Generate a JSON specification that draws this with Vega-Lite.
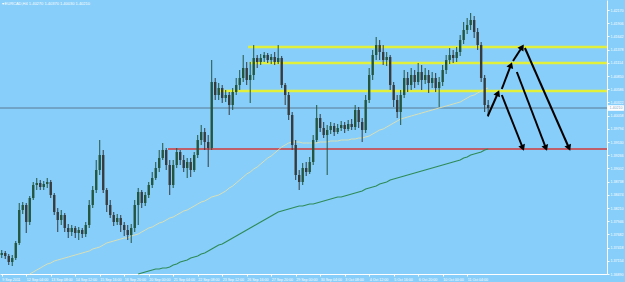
{
"$schema": "https://vega.github.io/schema/vega-lite/v6.json",
"width": 607, "height": 274, "autosize": "none", "padding": {"left": 0, "top": 0, "right": 18, "bottom": 8},
"background": "#87CEFA",
"config": {"view": {"stroke": null}, "font": "Liberation Sans", "axis": {"labelOverlap": false, "labelFlush": false, "labelBound": false, "grid": false, "labelColor": "white", "tickColor": "white", "domainColor": "white", "tickSize": 2, "labelFont": "Liberation Sans", "tickCount": 100}},
"title": {"text": "▾ EURCAD,H4  1.40270 1.40370 1.40030 1.40210", "anchor": "start", "offset": -6, "fontSize": 4, "color": "white", "fontWeight": "normal", "font": "Liberation Sans", "dx": 2},
"datasets": {
"bars": [
{"i":0,"o":1.3727,"h":1.3737,"l":1.3721,"c":1.3731},
{"i":1,"o":1.3731,"h":1.3735,"l":1.3719,"c":1.3725},
{"i":2,"o":1.3725,"h":1.3729,"l":1.3707,"c":1.3713},
{"i":3,"o":1.3713,"h":1.3727,"l":1.3705,"c":1.3721},
{"i":4,"o":1.3721,"h":1.3755,"l":1.3717,"c":1.3751},
{"i":5,"o":1.3751,"h":1.3831,"l":1.3747,"c":1.3817},
{"i":6,"o":1.3817,"h":1.3833,"l":1.3809,"c":1.3827},
{"i":7,"o":1.3827,"h":1.3831,"l":1.3771,"c":1.3793},
{"i":8,"o":1.3793,"h":1.3845,"l":1.3787,"c":1.3841,"m1":1.3689},
{"i":9,"o":1.3841,"h":1.3873,"l":1.3837,"c":1.3867,"m1":1.3693},
{"i":10,"o":1.3867,"h":1.3881,"l":1.3857,"c":1.3871,"m1":1.3697},
{"i":11,"o":1.3871,"h":1.3877,"l":1.3857,"c":1.3863,"m1":1.3701},
{"i":12,"o":1.3863,"h":1.3875,"l":1.3857,"c":1.3869,"m1":1.3705},
{"i":13,"o":1.3869,"h":1.3881,"l":1.3861,"c":1.3873,"m1":1.3709},
{"i":14,"o":1.3873,"h":1.3877,"l":1.3841,"c":1.3847,"m1":1.3711},
{"i":15,"o":1.3847,"h":1.3851,"l":1.3807,"c":1.3813,"m1":1.3715},
{"i":16,"o":1.3813,"h":1.3821,"l":1.3773,"c":1.3797,"m1":1.3717},
{"i":17,"o":1.3797,"h":1.3817,"l":1.3787,"c":1.3807,"m1":1.3719},
{"i":18,"o":1.3807,"h":1.3811,"l":1.3773,"c":1.3781,"m1":1.3721},
{"i":19,"o":1.3781,"h":1.3789,"l":1.3761,"c":1.3773,"m1":1.3723},
{"i":20,"o":1.3773,"h":1.3787,"l":1.3765,"c":1.3781,"m1":1.3725},
{"i":21,"o":1.3781,"h":1.3785,"l":1.3761,"c":1.3771,"m1":1.3727},
{"i":22,"o":1.3771,"h":1.3783,"l":1.3757,"c":1.3777,"m1":1.3729},
{"i":23,"o":1.3777,"h":1.3781,"l":1.3761,"c":1.3769,"m1":1.3731},
{"i":24,"o":1.3769,"h":1.3793,"l":1.3763,"c":1.3787,"m1":1.3733},
{"i":25,"o":1.3787,"h":1.3837,"l":1.3781,"c":1.3827,"m1":1.3735},
{"i":26,"o":1.3827,"h":1.3865,"l":1.3821,"c":1.3857,"m1":1.3739},
{"i":27,"o":1.3857,"h":1.3917,"l":1.3851,"c":1.3897,"m1":1.3741},
{"i":28,"o":1.3897,"h":1.3957,"l":1.3887,"c":1.3927,"m1":1.3743},
{"i":29,"o":1.3927,"h":1.3937,"l":1.3851,"c":1.3857,"m1":1.3747},
{"i":30,"o":1.3857,"h":1.3861,"l":1.3813,"c":1.3827,"m1":1.3751},
{"i":31,"o":1.3827,"h":1.3837,"l":1.3801,"c":1.3807,"m1":1.3753},
{"i":32,"o":1.3807,"h":1.3813,"l":1.3785,"c":1.3793,"m1":1.3755},
{"i":33,"o":1.3793,"h":1.3809,"l":1.3787,"c":1.3801,"m1":1.3757},
{"i":34,"o":1.3801,"h":1.3807,"l":1.3773,"c":1.3787,"m1":1.3759},
{"i":35,"o":1.3787,"h":1.3793,"l":1.3765,"c":1.3777,"m1":1.3761},
{"i":36,"o":1.3777,"h":1.3787,"l":1.3757,"c":1.3767,"m1":1.3761},
{"i":37,"o":1.3767,"h":1.3789,"l":1.3751,"c":1.3781,"m1":1.3765},
{"i":38,"o":1.3781,"h":1.3837,"l":1.3773,"c":1.3827,"m1":1.3767},
{"i":39,"o":1.3827,"h":1.3861,"l":1.3787,"c":1.3853,"m1":1.3769,"m2":1.3689},
{"i":40,"o":1.3853,"h":1.3857,"l":1.3821,"c":1.3831,"m1":1.3773,"m2":1.3691},
{"i":41,"o":1.3831,"h":1.3853,"l":1.3825,"c":1.3847,"m1":1.3777,"m2":1.3693},
{"i":42,"o":1.3847,"h":1.3873,"l":1.3841,"c":1.3867,"m1":1.3781,"m2":1.3695},
{"i":43,"o":1.3867,"h":1.3893,"l":1.3861,"c":1.3881,"m1":1.3783,"m2":1.3697},
{"i":44,"o":1.3881,"h":1.3913,"l":1.3877,"c":1.3901,"m1":1.3787,"m2":1.3699},
{"i":45,"o":1.3901,"h":1.3937,"l":1.3893,"c":1.3921,"m1":1.3791,"m2":1.3699},
{"i":46,"o":1.3921,"h":1.3951,"l":1.3917,"c":1.3937,"m1":1.3793,"m2":1.3701},
{"i":47,"o":1.3937,"h":1.3941,"l":1.3897,"c":1.3907,"m1":1.3797,"m2":1.3701},
{"i":48,"o":1.3907,"h":1.3917,"l":1.3847,"c":1.3867,"m1":1.3801,"m2":1.3703},
{"i":49,"o":1.3867,"h":1.3917,"l":1.3861,"c":1.3907,"m1":1.3803,"m2":1.3707},
{"i":50,"o":1.3907,"h":1.3941,"l":1.3901,"c":1.3933,"m1":1.3807,"m2":1.3709},
{"i":51,"o":1.3933,"h":1.3937,"l":1.3907,"c":1.3917,"m1":1.3811,"m2":1.3713},
{"i":52,"o":1.3917,"h":1.3927,"l":1.3893,"c":1.3901,"m1":1.3815,"m2":1.3715},
{"i":53,"o":1.3901,"h":1.3921,"l":1.3881,"c":1.3913,"m1":1.3817,"m2":1.3717},
{"i":54,"o":1.3913,"h":1.3921,"l":1.3883,"c":1.3897,"m1":1.3821,"m2":1.3721},
{"i":55,"o":1.3897,"h":1.3933,"l":1.3893,"c":1.3927,"m1":1.3825,"m2":1.3723},
{"i":56,"o":1.3927,"h":1.3967,"l":1.3921,"c":1.3957,"m1":1.3829,"m2":1.3725},
{"i":57,"o":1.3957,"h":1.3987,"l":1.3947,"c":1.3973,"m1":1.3833,"m2":1.3729},
{"i":58,"o":1.3973,"h":1.3981,"l":1.3937,"c":1.3953,"m1":1.3835,"m2":1.3731},
{"i":59,"o":1.3953,"h":1.3967,"l":1.3903,"c":1.3941,"m1":1.3839,"m2":1.3735},
{"i":60,"o":1.3941,"h":1.4117,"l":1.3937,"c":1.4073,"m1":1.3843,"m2":1.3739},
{"i":61,"o":1.4073,"h":1.4081,"l":1.4037,"c":1.4047,"m1":1.3845,"m2":1.3743},
{"i":62,"o":1.4047,"h":1.4071,"l":1.4037,"c":1.4061,"m1":1.3847,"m2":1.3747},
{"i":63,"o":1.4061,"h":1.4067,"l":1.4031,"c":1.4041,"m1":1.3851,"m2":1.3749},
{"i":64,"o":1.4041,"h":1.4057,"l":1.4033,"c":1.4047,"m1":1.3855,"m2":1.3753},
{"i":65,"o":1.4047,"h":1.4053,"l":1.4007,"c":1.4027,"m1":1.3861,"m2":1.3757},
{"i":66,"o":1.4027,"h":1.4061,"l":1.4017,"c":1.4053,"m1":1.3865,"m2":1.3761},
{"i":67,"o":1.4053,"h":1.4081,"l":1.4047,"c":1.4067,"m1":1.3871,"m2":1.3765},
{"i":68,"o":1.4067,"h":1.4097,"l":1.4057,"c":1.4081,"m1":1.3877,"m2":1.3769},
{"i":69,"o":1.4081,"h":1.4127,"l":1.4073,"c":1.4101,"m1":1.3883,"m2":1.3773},
{"i":70,"o":1.4101,"h":1.4113,"l":1.4067,"c":1.4077,"m1":1.3889,"m2":1.3777},
{"i":71,"o":1.4077,"h":1.4113,"l":1.4031,"c":1.4087,"m1":1.3893,"m2":1.3781},
{"i":72,"o":1.4087,"h":1.4147,"l":1.4077,"c":1.4121,"m1":1.3899,"m2":1.3785},
{"i":73,"o":1.4121,"h":1.4127,"l":1.4101,"c":1.4113,"m1":1.3903,"m2":1.3789},
{"i":74,"o":1.4113,"h":1.4129,"l":1.4107,"c":1.4121,"m1":1.3909,"m2":1.3793},
{"i":75,"o":1.4121,"h":1.4133,"l":1.4113,"c":1.4127,"m1":1.3915,"m2":1.3797},
{"i":76,"o":1.4127,"h":1.4131,"l":1.4111,"c":1.4117,"m1":1.3921,"m2":1.3801},
{"i":77,"o":1.4117,"h":1.4129,"l":1.4109,"c":1.4123,"m1":1.3925,"m2":1.3805},
{"i":78,"o":1.4123,"h":1.4133,"l":1.4107,"c":1.4113,"m1":1.3931,"m2":1.3809},
{"i":79,"o":1.4113,"h":1.4147,"l":1.4109,"c":1.4121,"m1":1.3937,"m2":1.3813},
{"i":80,"o":1.4121,"h":1.4125,"l":1.4061,"c":1.4067,"m1":1.3943,"m2":1.3815},
{"i":81,"o":1.4067,"h":1.4071,"l":1.4027,"c":1.4047,"m1":1.3947,"m2":1.3817},
{"i":82,"o":1.4047,"h":1.4053,"l":1.3997,"c":1.4007,"m1":1.3951,"m2":1.3819},
{"i":83,"o":1.4007,"h":1.4013,"l":1.3937,"c":1.3947,"m1":1.3953,"m2":1.3821},
{"i":84,"o":1.3947,"h":1.3957,"l":1.3877,"c":1.3887,"m1":1.3953,"m2":1.3823},
{"i":85,"o":1.3887,"h":1.3897,"l":1.3857,"c":1.3873,"m1":1.3953,"m2":1.3825},
{"i":86,"o":1.3873,"h":1.3911,"l":1.3867,"c":1.3901,"m1":1.3951,"m2":1.3825},
{"i":87,"o":1.3901,"h":1.3913,"l":1.3885,"c":1.3893,"m1":1.3951,"m2":1.3827},
{"i":88,"o":1.3893,"h":1.3923,"l":1.3889,"c":1.3913,"m1":1.3951,"m2":1.3829},
{"i":89,"o":1.3913,"h":1.3967,"l":1.3907,"c":1.3957,"m1":1.3951,"m2":1.3829},
{"i":90,"o":1.3957,"h":1.4027,"l":1.3953,"c":1.4001,"m1":1.3951,"m2":1.3831},
{"i":91,"o":1.4001,"h":1.4009,"l":1.3973,"c":1.3981,"m1":1.3953,"m2":1.3833},
{"i":92,"o":1.3981,"h":1.3993,"l":1.3961,"c":1.3967,"m1":1.3953,"m2":1.3835},
{"i":93,"o":1.3967,"h":1.3987,"l":1.3887,"c":1.3977,"m1":1.3953,"m2":1.3837},
{"i":94,"o":1.3977,"h":1.3993,"l":1.3969,"c":1.3985,"m1":1.3955,"m2":1.3839},
{"i":95,"o":1.3985,"h":1.3991,"l":1.3965,"c":1.3973,"m1":1.3955,"m2":1.3841},
{"i":96,"o":1.3973,"h":1.3989,"l":1.3969,"c":1.3981,"m1":1.3955,"m2":1.3843},
{"i":97,"o":1.3981,"h":1.3995,"l":1.3975,"c":1.3987,"m1":1.3957,"m2":1.3843},
{"i":98,"o":1.3987,"h":1.3993,"l":1.3971,"c":1.3979,"m1":1.3957,"m2":1.3845},
{"i":99,"o":1.3979,"h":1.3997,"l":1.3975,"c":1.3989,"m1":1.3957,"m2":1.3847},
{"i":100,"o":1.3989,"h":1.3999,"l":1.3977,"c":1.3983,"m1":1.3959,"m2":1.3849},
{"i":101,"o":1.3983,"h":1.4027,"l":1.3977,"c":1.4017,"m1":1.3959,"m2":1.3851},
{"i":102,"o":1.4017,"h":1.4023,"l":1.3981,"c":1.3993,"m1":1.3961,"m2":1.3853},
{"i":103,"o":1.3993,"h":1.4001,"l":1.3953,"c":1.3977,"m1":1.3961,"m2":1.3855},
{"i":104,"o":1.3977,"h":1.4047,"l":1.3971,"c":1.4037,"m1":1.3963,"m2":1.3859},
{"i":105,"o":1.4037,"h":1.4101,"l":1.4031,"c":1.4087,"m1":1.3965,"m2":1.3861},
{"i":106,"o":1.4087,"h":1.4137,"l":1.4077,"c":1.4127,"m1":1.3969,"m2":1.3863},
{"i":107,"o":1.4127,"h":1.4163,"l":1.4117,"c":1.4147,"m1":1.3973,"m2":1.3865},
{"i":108,"o":1.4147,"h":1.4157,"l":1.4117,"c":1.4133,"m1":1.3977,"m2":1.3869},
{"i":109,"o":1.4133,"h":1.4147,"l":1.4107,"c":1.4117,"m1":1.3979,"m2":1.3871},
{"i":110,"o":1.4117,"h":1.4133,"l":1.4105,"c":1.4123,"m1":1.3983,"m2":1.3873},
{"i":111,"o":1.4123,"h":1.4127,"l":1.4057,"c":1.4067,"m1":1.3987,"m2":1.3877},
{"i":112,"o":1.4067,"h":1.4073,"l":1.4023,"c":1.4037,"m1":1.3991,"m2":1.3879},
{"i":113,"o":1.4037,"h":1.4047,"l":1.4001,"c":1.4013,"m1":1.3995,"m2":1.3881},
{"i":114,"o":1.4013,"h":1.4057,"l":1.3987,"c":1.4047,"m1":1.3999,"m2":1.3883},
{"i":115,"o":1.4047,"h":1.4097,"l":1.4041,"c":1.4081,"m1":1.4001,"m2":1.3885},
{"i":116,"o":1.4081,"h":1.4093,"l":1.4053,"c":1.4067,"m1":1.4003,"m2":1.3887},
{"i":117,"o":1.4067,"h":1.4101,"l":1.4057,"c":1.4087,"m1":1.4005,"m2":1.3889},
{"i":118,"o":1.4087,"h":1.4097,"l":1.4061,"c":1.4073,"m1":1.4007,"m2":1.3891},
{"i":119,"o":1.4073,"h":1.4111,"l":1.4067,"c":1.4093,"m1":1.4009,"m2":1.3893},
{"i":120,"o":1.4093,"h":1.4107,"l":1.4057,"c":1.4077,"m1":1.4011,"m2":1.3895},
{"i":121,"o":1.4077,"h":1.4101,"l":1.4069,"c":1.4087,"m1":1.4013,"m2":1.3897},
{"i":122,"o":1.4087,"h":1.4097,"l":1.4051,"c":1.4071,"m1":1.4015,"m2":1.3899},
{"i":123,"o":1.4071,"h":1.4093,"l":1.4061,"c":1.4081,"m1":1.4017,"m2":1.3901},
{"i":124,"o":1.4081,"h":1.4091,"l":1.4053,"c":1.4061,"m1":1.4019,"m2":1.3903},
{"i":125,"o":1.4061,"h":1.4083,"l":1.4023,"c":1.4073,"m1":1.4021,"m2":1.3905},
{"i":126,"o":1.4073,"h":1.4107,"l":1.4065,"c":1.4097,"m1":1.4023,"m2":1.3907},
{"i":127,"o":1.4097,"h":1.4127,"l":1.4089,"c":1.4117,"m1":1.4025,"m2":1.3909},
{"i":128,"o":1.4117,"h":1.4141,"l":1.4109,"c":1.4127,"m1":1.4027,"m2":1.3911},
{"i":129,"o":1.4127,"h":1.4137,"l":1.4111,"c":1.4121,"m1":1.4029,"m2":1.3913},
{"i":130,"o":1.4121,"h":1.4143,"l":1.4113,"c":1.4133,"m1":1.4031,"m2":1.3915},
{"i":131,"o":1.4133,"h":1.4167,"l":1.4125,"c":1.4157,"m1":1.4033,"m2":1.3917},
{"i":132,"o":1.4157,"h":1.4193,"l":1.4149,"c":1.4177,"m1":1.4037,"m2":1.3921},
{"i":133,"o":1.4177,"h":1.4201,"l":1.4169,"c":1.4187,"m1":1.4041,"m2":1.3923},
{"i":134,"o":1.4187,"h":1.4211,"l":1.4177,"c":1.4197,"m1":1.4045,"m2":1.3927},
{"i":135,"o":1.4197,"h":1.4205,"l":1.4161,"c":1.4173,"m1":1.4047,"m2":1.3929},
{"i":136,"o":1.4173,"h":1.4181,"l":1.4137,"c":1.4147,"m1":1.4051,"m2":1.3931},
{"i":137,"o":1.4147,"h":1.4153,"l":1.4073,"c":1.4081,"m1":1.4055,"m2":1.3933},
{"i":138,"o":1.4081,"h":1.4087,"l":1.4013,"c":1.4027,"m1":1.4059,"m2":1.3937},
{"i":139,"o":1.4027,"h":1.4037,"l":1.4003,"c":1.4021,"m1":1.4061,"m2":1.3939}
],
"levels": [
{"kind":"price","x1":-0.5,"x2":172.96,"p":1.4021},
{"kind":"red","x1":47.5,"x2":172.96,"p":1.3939},
{"kind":"yellow","x1":70.4,"x2":172.96,"p":1.4143},
{"kind":"yellow","x1":70.9,"x2":172.96,"p":1.4111},
{"kind":"yellow","x1":61.8,"x2":172.96,"p":1.4055}
],
"arrows": [
{"x1":138.9,"p1":1.4005,"x2":141.8,"p2":1.4051,"ang":23.5},
{"x1":142.9,"p1":1.4059,"x2":145.5,"p2":1.4107,"ang":20.6},
{"x1":146.1,"p1":1.4115,"x2":148.7,"p2":1.4143,"ang":32.7},
{"x1":142.9,"p1":1.4047,"x2":148.9,"p2":1.3941,"ang":158.4},
{"x1":147.2,"p1":1.4093,"x2":155.5,"p2":1.3941,"ang":159.1},
{"x1":149.5,"p1":1.4141,"x2":162.1,"p2":1.3941,"ang":156.3}
]
},
"layer": [
{
"data": {"name": "levels"},
"transform": [{"filter": "datum.kind == 'price'"}],
"mark": {"type": "rule", "color": "#5b7a92", "strokeWidth": 1},
"encoding": {
"x": {"field": "x1", "type": "quantitative", "scale": {"domain": [-0.5, 172.96], "nice": false, "zero": false},
"axis": {"values": [0,7,14,21,28,35,42,49,56,63,70,77,84,91,98,105,112,119,126,133], "tickCount": 100,
"labelExpr": "['9 Sep 2011','12 Sep 04:00','13 Sep 08:00','14 Sep 12:00','15 Sep 16:00','16 Sep 20:00','20 Sep 00:00','21 Sep 04:00','22 Sep 08:00','23 Sep 12:00','26 Sep 16:00','27 Sep 20:00','29 Sep 00:00','30 Sep 04:00','3 Oct 08:00','4 Oct 12:00','5 Oct 16:00','6 Oct 20:00','10 Oct 00:00','11 Oct 04:00'][round(datum.value/7)]",
"labelAlign": "left", "labelFontSize": 3.6, "labelPadding": 1, "labelOverlap": false, "title": null}},
"x2": {"field": "x2"},
"y": {"field": "p", "type": "quantitative", "scale": {"domain": [1.3689, 1.4237], "nice": false, "zero": false},
"axis": {"orient": "right", "tickCount": 100, "values": [1.4217,1.41906,1.41642,1.41378,1.41114,1.4085,1.40586,1.40322,1.40058,1.39794,1.3953,1.39266,1.39002,1.38738,1.38474,1.3821,1.37946,1.37682,1.37418,1.37154,1.3689],
"format": ".5f", "labelFontSize": 3.6, "labelPadding": 1, "labelOverlap": false, "title": null}}
}
},
{
"data": {"name": "levels"},
"transform": [{"filter": "datum.kind == 'yellow'"}],
"mark": {"type": "rule", "color": "#E2F03C", "strokeWidth": 2.5},
"encoding": {
"x": {"field": "x1", "type": "quantitative", "scale": {"domain": [-0.5, 172.96], "nice": false, "zero": false}},
"x2": {"field": "x2"},
"y": {"field": "p", "type": "quantitative", "scale": {"domain": [1.3689, 1.4237], "nice": false, "zero": false}}
}
},
{
"data": {"name": "levels"},
"transform": [{"filter": "datum.kind == 'red'"}],
"mark": {"type": "rule", "color": "#d23a3a", "strokeWidth": 1.5},
"encoding": {
"x": {"field": "x1", "type": "quantitative", "scale": {"domain": [-0.5, 172.96], "nice": false, "zero": false}},
"x2": {"field": "x2"},
"y": {"field": "p", "type": "quantitative", "scale": {"domain": [1.3689, 1.4237], "nice": false, "zero": false}}
}
},
{
"data": {"name": "bars"},
"transform": [{"filter": "isValid(datum.m1)"}],
"mark": {"type": "line", "color": "#E8E2A8", "strokeWidth": 1, "opacity": 0.85},
"encoding": {
"x": {"field": "i", "type": "quantitative", "scale": {"domain": [-0.5, 172.96], "nice": false, "zero": false}},
"y": {"field": "m1", "type": "quantitative", "scale": {"domain": [1.3689, 1.4237], "nice": false, "zero": false}}
}
},
{
"data": {"name": "bars"},
"transform": [{"filter": "isValid(datum.m2)"}],
"mark": {"type": "line", "color": "#2E8B57", "strokeWidth": 1.1},
"encoding": {
"x": {"field": "i", "type": "quantitative", "scale": {"domain": [-0.5, 172.96], "nice": false, "zero": false}},
"y": {"field": "m2", "type": "quantitative", "scale": {"domain": [1.3689, 1.4237], "nice": false, "zero": false}}
}
},
{
"data": {"name": "bars"},
"mark": {"type": "rule", "strokeWidth": 1},
"encoding": {
"x": {"field": "i", "type": "quantitative", "scale": {"domain": [-0.5, 172.96], "nice": false, "zero": false}},
"y": {"field": "l", "type": "quantitative", "scale": {"domain": [1.3689, 1.4237], "nice": false, "zero": false}},
"y2": {"field": "h"},
"color": {"condition": {"test": "datum.c >= datum.o", "value": "#24553f"}, "value": "#363c3e"}
}
},
{
"data": {"name": "bars"},
"mark": {"type": "rule", "strokeWidth": 2.4},
"encoding": {
"x": {"field": "i", "type": "quantitative", "scale": {"domain": [-0.5, 172.96], "nice": false, "zero": false}},
"y": {"field": "o", "type": "quantitative", "scale": {"domain": [1.3689, 1.4237], "nice": false, "zero": false}},
"y2": {"field": "c"},
"color": {"condition": {"test": "datum.c >= datum.o", "value": "#24553f"}, "value": "#363c3e"}
}
},
{
"data": {"name": "arrows"},
"mark": {"type": "rule", "color": "black", "strokeWidth": 2},
"encoding": {
"x": {"field": "x1", "type": "quantitative", "scale": {"domain": [-0.5, 172.96], "nice": false, "zero": false}},
"x2": {"field": "x2"},
"y": {"field": "p1", "type": "quantitative", "scale": {"domain": [1.3689, 1.4237], "nice": false, "zero": false}},
"y2": {"field": "p2"}
}
},
{
"data": {"name": "arrows"},
"mark": {"type": "point", "shape": "triangle-up", "filled": true, "color": "black", "opacity": 1, "size": 50},
"encoding": {
"x": {"field": "x2", "type": "quantitative", "scale": {"domain": [-0.5, 172.96], "nice": false, "zero": false}},
"y": {"field": "p2", "type": "quantitative", "scale": {"domain": [1.3689, 1.4237], "nice": false, "zero": false}},
"angle": {"field": "ang", "type": "quantitative", "scale": null}
}
},
{
"data": {"values": [{"p": 1.4021, "t": "1.40210"}]},
"mark": {"type": "point", "shape": "M-1,-0.35H1V0.35H-1Z", "filled": true, "color": "white", "opacity": 1, "size": 256, "clip": false},
"encoding": {
"x": {"datum": 175.5, "type": "quantitative", "scale": {"domain": [-0.5, 172.96], "nice": false, "zero": false}},
"y": {"field": "p", "type": "quantitative", "scale": {"domain": [1.3689, 1.4237], "nice": false, "zero": false}}
}
},
{
"data": {"values": [{"p": 1.4021, "t": "1.40210"}]},
"mark": {"type": "text", "fontSize": 3.6, "color": "#7fa6c6", "align": "center", "baseline": "middle", "clip": false, "font": "Liberation Sans"},
"encoding": {
"x": {"datum": 175.5, "type": "quantitative", "scale": {"domain": [-0.5, 172.96], "nice": false, "zero": false}},
"y": {"field": "p", "type": "quantitative", "scale": {"domain": [1.3689, 1.4237], "nice": false, "zero": false}},
"text": {"field": "t"}
}
}
]
}
